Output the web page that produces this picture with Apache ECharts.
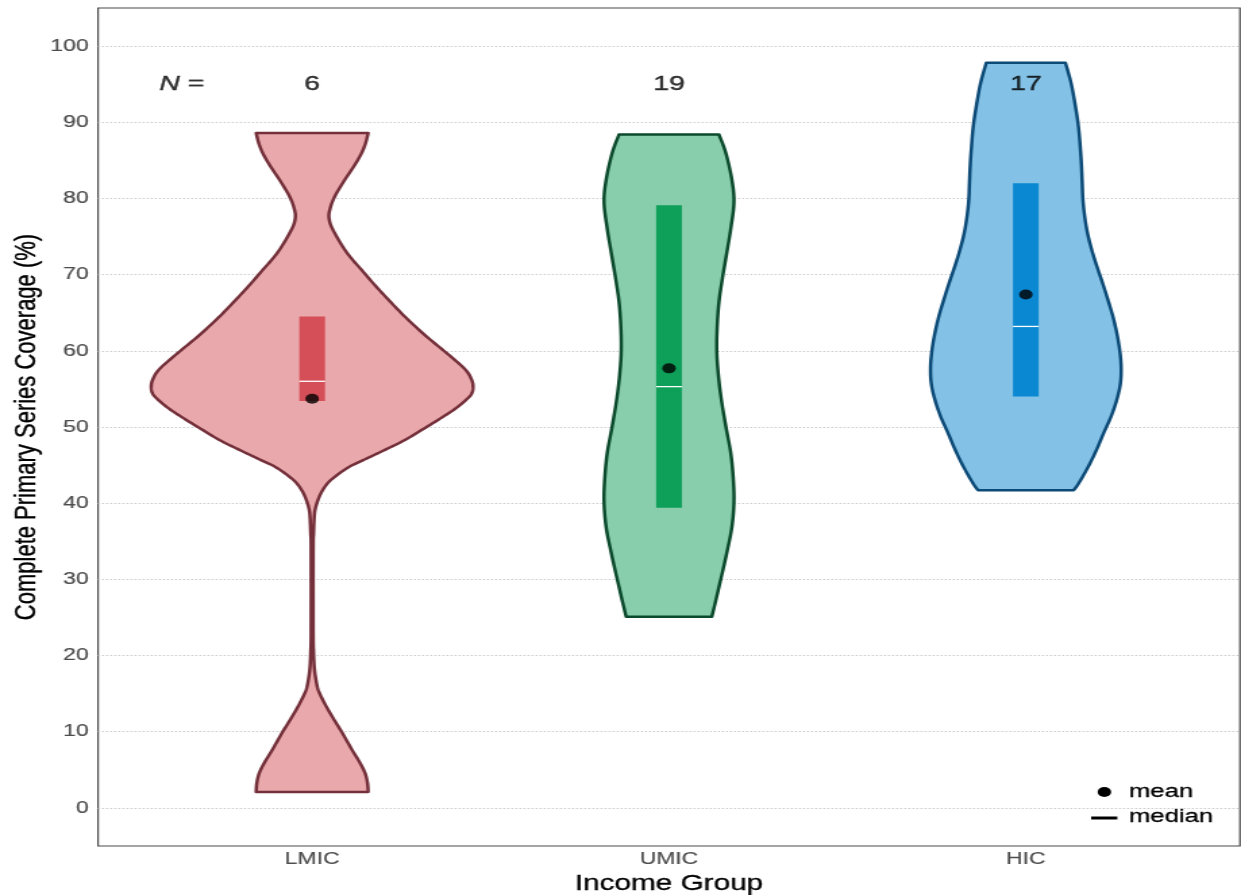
<!DOCTYPE html>
<html>
<head>
<meta charset="utf-8">
<script src="https://cdn.jsdelivr.net/npm/echarts@6/dist/echarts.min.js"></script>
<style>
  html, body { margin: 0; padding: 0; background: #ffffff; overflow: hidden; }
  /* the chart is laid out on a narrower canvas and widened to the page */
  #main { width: 919px; height: 895px; transform: scaleX(1.3504); transform-origin: 0 0; }
</style>
</head>
<body>
<div id="main"></div>
<script>
// Income groups on the x axis
const groupNames = ['LMIC', 'UMIC', 'HIC'];
// Number of countries per group
const nCounts = [6, 19, 17];
// Summary statistics of coverage (%)
const q1Values = [53.4, 39.4, 54.0];
const q3Values = [64.5, 79.1, 82.0];
const medianValues = [56.0, 55.3, 63.2];
const meanValues = [53.7, 57.7, 67.4];
// Violin outlines: [coverage %, half width in x-axis units], from top to bottom
const lmicProfile = [
  [88.6, 0.157], [87.3, 0.150], [86.1, 0.140], [84.9, 0.126], [83.8, 0.111],
  [82.7, 0.095], [81.6, 0.080], [80.5, 0.066], [79.5, 0.056], [78.6, 0.050],
  [77.9, 0.047], [77.2, 0.048], [76.4, 0.053], [75.3, 0.065], [74.1, 0.080],
  [72.9, 0.097], [71.8, 0.116], [70.7, 0.137], [68.5, 0.178], [66.4, 0.220],
  [64.2, 0.266], [61.9, 0.320], [59.7, 0.377], [57.6, 0.428], [56.3, 0.446],
  [55.3, 0.451], [54.3, 0.446], [53.3, 0.425], [52.3, 0.398], [51.2, 0.362],
  [50.1, 0.324], [48.3, 0.260], [47.0, 0.204], [45.8, 0.150], [44.8, 0.105],
  [43.7, 0.070], [42.7, 0.045], [41.6, 0.028], [40.5, 0.017], [39.3, 0.009],
  [38.2, 0.006], [36.0, 0.004], [34.0, 0.003], [23.0, 0.003], [20.5, 0.004],
  [18.5, 0.006], [17.0, 0.010], [15.5, 0.017], [13.8, 0.034], [12.0, 0.056],
  [9.8, 0.085], [7.6, 0.112], [6.0, 0.133], [4.6, 0.148], [3.3, 0.155],
  [2.1, 0.157]
];
const umicProfile = [
  [88.4, 0.140], [86.0, 0.159], [82.5, 0.176], [79.5, 0.182], [76.0, 0.173],
  [72.9, 0.162], [69.6, 0.150], [66.4, 0.140], [63.1, 0.135], [59.8, 0.134],
  [56.5, 0.139], [53.2, 0.148], [49.9, 0.160], [46.6, 0.173], [43.3, 0.180],
  [40.1, 0.182], [36.8, 0.176], [33.5, 0.162], [31.2, 0.151], [29.0, 0.140],
  [27.0, 0.130], [25.1, 0.120]
];
const hicProfile = [
  [97.8, 0.111], [95.3, 0.126], [92.9, 0.136], [89.6, 0.147], [86.4, 0.153],
  [84.2, 0.156], [82.0, 0.158], [79.8, 0.160], [77.6, 0.165], [75.4, 0.173],
  [73.2, 0.185], [71.1, 0.199], [68.9, 0.215], [66.7, 0.230], [64.5, 0.244],
  [62.3, 0.255], [60.1, 0.263], [57.9, 0.267], [55.7, 0.265], [53.6, 0.255],
  [51.4, 0.239], [49.2, 0.218], [47.0, 0.198], [44.8, 0.175], [42.6, 0.148],
  [41.7, 0.134]
];
const yTicks = [0, 10, 20, 30, 40, 50, 60, 70, 80, 90, 100];
const xTicks = [1, 2, 3];

const profiles = [lmicProfile, umicProfile, hicProfile];
const fillColors = ['#E9A8AB', '#88CEAD', '#83C2E6'];
const strokeColors = ['#74303A', '#0B4A2C', '#0C4A77'];
const boxColors = ['#D54F58', '#0E9F59', '#0A88D1'];
const boxHalf = 0.036;
const FONT = '"Liberation Sans", Arial, sans-serif';

// Catmull-Rom smoothing of an outline side
function densify(pts, steps) {
  const out = [];
  const n = pts.length;
  for (let i = 0; i < n - 1; i++) {
    const p0 = pts[Math.max(i - 1, 0)], p1 = pts[i], p2 = pts[i + 1], p3 = pts[Math.min(i + 2, n - 1)];
    for (let s = 0; s < steps; s++) {
      const t = s / steps, t2 = t * t, t3 = t2 * t;
      const f = k => 0.5 * ((2 * p1[k]) + (-p0[k] + p2[k]) * t +
        (2 * p0[k] - 5 * p1[k] + 4 * p2[k] - p3[k]) * t2 +
        (-p0[k] + 3 * p1[k] - 3 * p2[k] + p3[k]) * t3);
      out.push([f(0), Math.max(f(1), 0.002)]);
    }
  }
  out.push(pts[n - 1]);
  return out;
}

const chart = echarts.init(document.getElementById('main'));

const option = {
  backgroundColor: '#ffffff',
  animation: false,
  grid: {
    left: 72.6, right: 0.8, top: 8, bottom: 49,
    containLabel: false, outerBoundsMode: 'none',
    show: true, borderColor: '#4a4a4a', borderWidth: 1.2, backgroundColor: 'transparent'
  },
  xAxis: {
    type: 'value', min: 0.4, max: 3.6,
    name: 'Income Group', nameLocation: 'middle', nameGap: 26,
    nameTextStyle: { fontFamily: FONT, fontSize: 22, color: '#000000', textBorderColor: '#000000', textBorderWidth: 0.3 },
    axisLine: { show: false }, axisTick: { show: false, customValues: xTicks },
    splitLine: { show: false },
    axisLabel: {
      customValues: xTicks, margin: 5,
      formatter: v => groupNames[Math.round(v) - 1] || '',
      fontFamily: FONT, fontSize: 17, color: '#4d4d4d', textBorderColor: '#4d4d4d', textBorderWidth: 0.2
    }
  },
  yAxis: {
    type: 'value', min: -5, max: 105,
    name: 'Complete Primary Series Coverage (%)', nameLocation: 'middle', nameGap: 42,
    nameMoveOverlap: false,
    nameTextStyle: { fontFamily: FONT, fontSize: 22, color: '#000000', textBorderColor: '#000000', textBorderWidth: 0.3 },
    axisLine: { show: false },
    axisTick: { show: false, customValues: yTicks },
    axisLabel: { customValues: yTicks, margin: 7, fontFamily: FONT, fontSize: 17, color: '#4d4d4d', textBorderColor: '#4d4d4d', textBorderWidth: 0.2 },
    splitLine: { show: true, lineStyle: { color: '#cccccc', width: 1, type: [1.5, 1.5] } }
  },
  series: [
    {
      name: 'violin', type: 'custom', z: 2,
      data: groupNames.map((_, i) => [i + 1, medianValues[i]]),
      renderItem: (params, api) => {
        const i = params.dataIndex;
        const xc = api.value(0);
        const dense = densify(profiles[i], 10);
        const right = dense.map(p => api.coord([xc + p[1], p[0]]));
        const left = dense.slice().reverse().map(p => api.coord([xc - p[1], p[0]]));
        return {
          type: 'polygon',
          shape: { points: right.concat(left) },
          style: { fill: fillColors[i], stroke: strokeColors[i], lineWidth: 2.5, lineJoin: 'round' }
        };
      }
    },
    {
      name: 'quartiles', type: 'custom', z: 3,
      data: groupNames.map((_, i) => [i + 1, q1Values[i], q3Values[i], medianValues[i]]),
      renderItem: (params, api) => {
        const i = params.dataIndex;
        const xc = api.value(0);
        const a = api.coord([xc - boxHalf, api.value(2)]);
        const b = api.coord([xc + boxHalf, api.value(1)]);
        const m0 = api.coord([xc - boxHalf, api.value(3)]);
        const m1 = api.coord([xc + boxHalf, api.value(3)]);
        return {
          type: 'group',
          children: [
            { type: 'rect', shape: { x: a[0], y: a[1], width: b[0] - a[0], height: b[1] - a[1] },
              style: { fill: boxColors[i] } },
            { type: 'line', shape: { x1: m0[0], y1: m0[1], x2: m1[0], y2: m1[1] },
              style: { stroke: '#ffffff', lineWidth: 1.3 } }
          ]
        };
      }
    },
    {
      name: 'mean', type: 'scatter', z: 4,
      symbol: 'circle', symbolSize: 10,
      itemStyle: { color: '#000000' },
      data: meanValues.map((v, i) => [i + 1, v])
    },
    {
      name: 'N', type: 'scatter', z: 5, symbolSize: 0, silent: true,
      data: nCounts.map((n, i) => [i + 1, 95, n]).concat([[0.635, 95, -1]]),
      label: {
        show: true, position: 'inside',
        formatter: p => p.value[2] < 0 ? '{i|N} =' : String(p.value[2]),
        fontFamily: FONT, fontSize: 21, color: '#000000', textBorderColor: '#000000', textBorderWidth: 0.4,
        rich: { i: { fontFamily: FONT, fontSize: 21, fontStyle: 'italic', color: '#000000', textBorderColor: '#000000', textBorderWidth: 0.4 } }
      }
    }
  ],
  graphic: [
    { type: 'circle', shape: { cx: 817.8, cy: 792, r: 5 }, style: { fill: '#000000' } },
    { type: 'text', x: 836, y: 792, style: { text: 'mean', font: '19px ' + FONT, fill: '#000000', stroke: '#000000', lineWidth: 0.3, verticalAlign: 'middle' } },
    { type: 'rect', shape: { x: 808, y: 816.5, width: 19.4, height: 3 }, style: { fill: '#000000' } },
    { type: 'text', x: 836, y: 817, style: { text: 'median', font: '19px ' + FONT, fill: '#000000', stroke: '#000000', lineWidth: 0.3, verticalAlign: 'middle' } }
  ]
};

chart.setOption(option);
</script>
</body>
</html>
